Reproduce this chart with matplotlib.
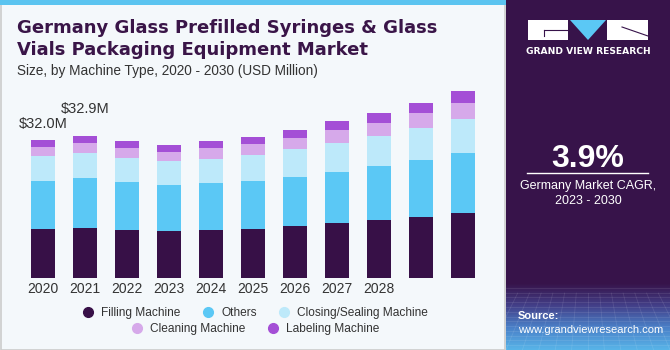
import matplotlib.pyplot as plt
import matplotlib.patches as patches
from matplotlib.colors import LinearSegmentedColormap
from matplotlib.lines import Line2D
import numpy as np

# valores (USD Million)
years = ['2020', '2021', '2022', '2023', '2024', '2025', '2026', '2027', '2028', '2029', '2030']
tick_labels = ['2020', '2021', '2022', '2023', '2024', '2025', '2026', '2027', '2028', '', '']
filling = [11.41, 11.72, 11.26, 10.95, 11.18, 11.49, 12.18, 12.80, 13.42, 14.19, 15.03]
others = [11.18, 11.41, 11.10, 10.56, 10.79, 11.03, 11.18, 11.80, 12.49, 13.11, 14.03]
closing = [5.63, 5.86, 5.55, 5.63, 5.71, 5.94, 6.48, 6.71, 7.09, 7.56, 7.86]
cleaning = [2.24, 2.31, 2.16, 2.16, 2.39, 2.54, 2.70, 2.93, 3.01, 3.32, 3.62]
labeling = [1.54, 1.62, 1.70, 1.46, 1.62, 1.70, 1.85, 2.08, 2.16, 2.47, 2.70]
series_names = ['Filling Machine', 'Others', 'Closing/Sealing Machine', 'Cleaning Machine', 'Labeling Machine']
series_colors = ['#371047', '#5BC8F5', '#BDE9FA', '#D6A9EA', '#A44FD6']
annotations = {0: '$32.0M', 1: '$32.9M'}

W, H = 670, 350


def fx(x):
    return x / W


def fy(y):
    # y em pixels a partir do topo
    return 1 - y / H


fig = plt.figure(figsize=(6.7, 3.5), dpi=100)
fig.patch.set_facecolor('#F4F8FB')

# borda e faixa azul do painel esquerdo
fig.add_artist(patches.Rectangle((fx(0.5), fy(349.5)), fx(505), 349 / H, transform=fig.transFigure,
                                 facecolor='none', edgecolor='#CCCCCC', lw=1.2))
fig.add_artist(patches.Rectangle((0, fy(5)), fx(506), 5 / H, transform=fig.transFigure,
                                 facecolor='#5BC4F0', edgecolor='none'))

# painel direito
fig.add_artist(patches.Rectangle((fx(506), 0), fx(164), 1, transform=fig.transFigure,
                                 facecolor='#37134A', edgecolor='none', zorder=0.5))
grad_ax = fig.add_axes([fx(506), 0, fx(164), 67 / H])
grad_ax.set_zorder(1.5)
cmap = LinearSegmentedColormap.from_list('g', ['#58B4E8', '#4A80C8', '#433F88', '#37134A'])
grad_ax.imshow(np.linspace(0, 1, 100).reshape(-1, 1), aspect='auto', cmap=cmap, origin='lower',
               extent=(0, 1, 0, 1))
# textura de grade
for i in range(1, 14):
    grad_ax.axhline(i / 14, color='white', alpha=0.10, lw=0.6)
for i in range(-8, 22):
    grad_ax.plot([i / 14, 0.5 + (i / 14 - 0.5) * 1.4], [0.85, 0], color='white', alpha=0.10, lw=0.6)
grad_ax.set_xlim(0, 1)
grad_ax.set_ylim(0, 1)
grad_ax.set_axis_off()

# logo
fig.add_artist(patches.Rectangle((fx(528), fy(40)), fx(40), 20 / H, transform=fig.transFigure,
                                 facecolor='white', edgecolor='none'))
fig.add_artist(patches.Rectangle((fx(607), fy(40)), fx(41), 20 / H, transform=fig.transFigure,
                                 facecolor='white', edgecolor='none'))
fig.add_artist(patches.Polygon([(fx(570), fy(20)), (fx(606), fy(20)), (fx(588), fy(40))], closed=True,
                               transform=fig.transFigure, facecolor='#5BC8F5', edgecolor='none'))
fig.add_artist(Line2D([fx(544), fx(568)], [fy(30), fy(30)], transform=fig.transFigure, color='#37134A', lw=0.8))
fig.add_artist(Line2D([fx(544), fx(544)], [fy(30), fy(36)], transform=fig.transFigure, color='#37134A', lw=0.8))
fig.add_artist(Line2D([fx(622), fx(648)], [fy(27), fy(36)], transform=fig.transFigure, color='#37134A', lw=0.8))
fig.text(fx(588), fy(51), 'GRAND VIEW RESEARCH', color='white', fontsize=6.6, fontweight='bold',
         family='DejaVu Sans', ha='center', va='center')

fig.text(fx(588), fy(159), '3.9%', color='white', fontsize=23, fontweight='bold',
         family='Liberation Sans', ha='center', va='center')
fig.add_artist(Line2D([fx(527), fx(648)], [fy(173), fy(173)], transform=fig.transFigure, color='white', lw=1))
fig.text(fx(588), fy(186), 'Germany Market CAGR,', color='white', fontsize=9,
         family='Liberation Sans', ha='center', va='center')
fig.text(fx(588), fy(201), '2023 - 2030', color='white', fontsize=9,
         family='Liberation Sans', ha='center', va='center')
fig.text(fx(518), fy(316), 'Source:', color='white', fontsize=8, fontweight='bold',
         family='Liberation Sans', ha='left', va='center', zorder=3)
fig.text(fx(518), fy(330), 'www.grandviewresearch.com', color='white', fontsize=8,
         family='Liberation Sans', ha='left', va='center', zorder=3)

# titulos
fig.text(fx(17), fy(28), 'Germany Glass Prefilled Syringes & Glass',
         color='#3A1548', fontsize=13, fontweight='heavy', family='DejaVu Sans', ha='left', va='center')
fig.text(fx(17), fy(50), 'Vials Packaging Equipment Market',
         color='#3A1548', fontsize=13, fontweight='heavy', family='DejaVu Sans', ha='left', va='center')
fig.text(fx(17), fy(71), 'Size, by Machine Type, 2020 - 2030 (USD Million)', color='#333333',
         fontsize=9.8, family='Liberation Sans', ha='left', va='center')

# grafico de barras
ax = fig.add_axes([fx(17.8), fy(278.3), fx(470.4), 198.3 / H])
ax.set_facecolor('none')
x = np.arange(len(years))
series = [filling, others, closing, cleaning, labeling]
bottom = np.zeros(len(years))
handles = []
for vals, name, color in zip(series, series_names, series_colors):
    ax.bar(x, vals, width=0.571, bottom=bottom, color=color, edgecolor='none', label=name)
    bottom += np.array(vals)
    handles.append(Line2D([], [], marker='o', ls='', color=color, markersize=7, label=name))

for i, txt in annotations.items():
    ax.text(x[i], bottom[i] + 3.7 + 2.5 * i, txt, ha='center', va='center', fontsize=10.5,
            color='#333333', family='Liberation Sans')

ax.set_xlim(-0.6, 10.6)
ax.set_ylim(0, 45.87)
ax.set_xticks(x)
ax.set_xticklabels(tick_labels, fontsize=10, color='#333333', family='Liberation Sans')
ax.tick_params(axis='x', length=0, pad=3)
ax.set_yticks([])
for s in ax.spines.values():
    s.set_visible(False)

# legenda em duas linhas
leg_font = {'family': 'Liberation Sans', 'size': 8.6}
fig.legend(handles=handles[:3], loc='center', bbox_to_anchor=(fx(252), fy(313)), ncol=3, frameon=False,
           prop=leg_font, handletextpad=0.1, columnspacing=1.3, labelcolor='#333333')
fig.legend(handles=handles[3:], loc='center', bbox_to_anchor=(fx(252), fy(329)), ncol=2, frameon=False,
           prop=leg_font, handletextpad=0.1, columnspacing=1.3, labelcolor='#333333')

plt.savefig('out.png', dpi=100, facecolor=fig.get_facecolor())
